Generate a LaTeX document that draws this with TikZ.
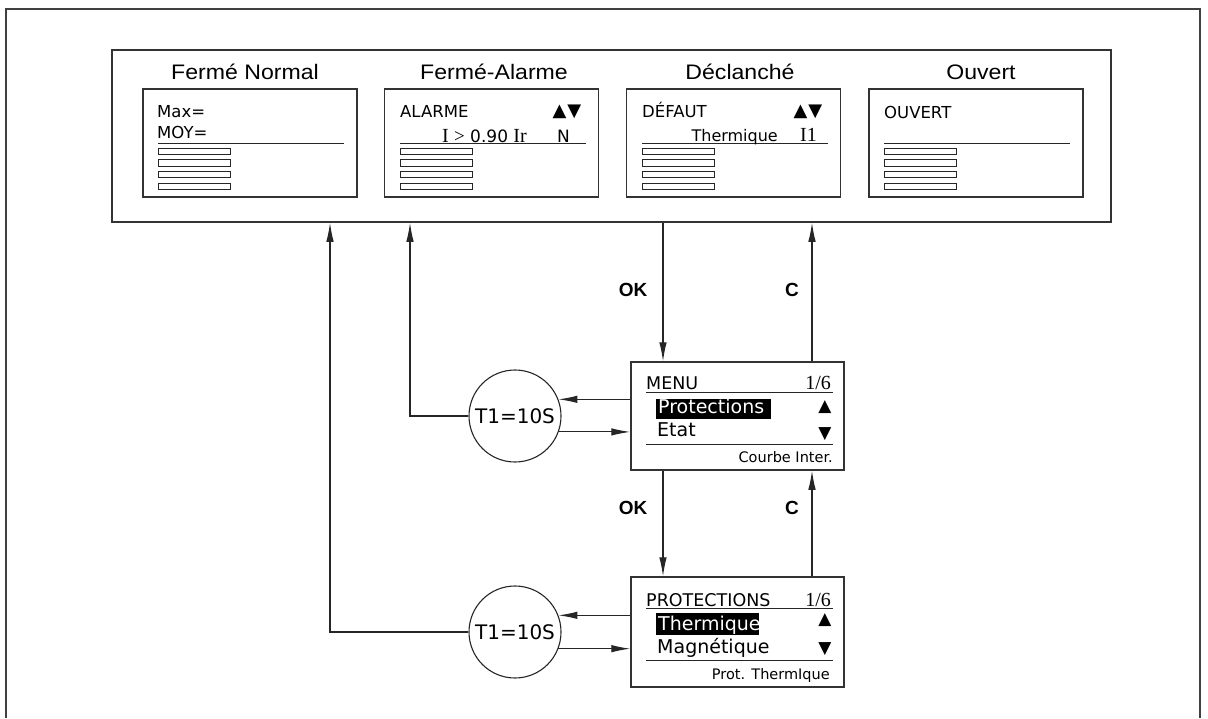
\documentclass[tikz,border=0pt]{standalone}
\usepackage{fontspec}
\setmainfont{DejaVu Sans}
\newfontfamily\ttlfont[FakeStretch=1.1]{Liberation Sans}
\newfontfamily\helv{Liberation Sans}
\newfontfamily\serf{Liberation Serif}
\usetikzlibrary{arrows.meta}
\newcommand\fsz[1]{\fontsize{#1}{#1}\selectfont}
\begin{document}
\begin{tikzpicture}[x=1pt,y=-1pt,
  ln/.style={line width=1.1pt, draw=black!85},
  arr/.style={ln, -{Latex[length=19pt,width=7.5pt]}},
  frm/.style={draw=black!80, line width=1.5pt, inner sep=0pt},
  scr/.style={frm, minimum width=214pt, minimum height=108pt},
  bar/.style={draw=black!85, line width=0.8pt},
  sline/.style={draw=black!85, line width=0.9pt},
  ttl/.style={anchor=base, inner sep=0pt, font=\ttlfont\fsz{21}},
  txt/.style={anchor=base west, inner sep=0pt, font=\fsz{16.5}},
  txte/.style={anchor=base east, inner sep=0pt, font=\fsz{16.5}},
  tri/.style={anchor=center, inner sep=0pt, font=\fsz{17}},
  big/.style={anchor=base west, inner sep=0pt, font=\fsz{19}},
  hdr/.style={anchor=base west, inner sep=0pt, font=\fsz{17.5}},
  frac/.style={anchor=base east, inner sep=0pt, font=\serf\fsz{20}},
  small/.style={anchor=base east, inner sep=0pt, font=\fsz{14.5}},
  lbl/.style={anchor=center, inner sep=0pt, font=\helv\bfseries\fsz{19}},
  circ/.style={draw=black!85, line width=1.1pt, circle, minimum size=92pt, inner sep=0pt, font=\fsz{20}},
  hl/.style={fill=black}
]
\useasboundingbox (0,0) rectangle (1208,718);
% outer frame (open at the bottom)
\draw[draw=black!75, line width=1.8pt] (6,718) -- (6,9) -- (1200,9) -- (1200,718);

% top panel
\node[frm, minimum width=999pt, minimum height=172pt] (panel) at (611.5,136) {};

% titles
\node[ttl] (t1) at (245,79) {Fermé Normal};
\node[ttl] (t2) at (494,79) {Fermé-Alarme};
\node[ttl] (t3) at (740,79) {Déclanché};
\node[ttl] (t4) at (981,79) {Ouvert};

% screens
\node[scr] (s1) at (250,143) {};
\node[scr] (s2) at (491.5,143) {};
\node[scr] (s3) at (733.5,143) {};
\node[scr] (s4) at (976,143) {};

\foreach \L in {143,385,627,869}{
  \draw[sline] (\L+15,143.5) -- (\L+201,143.5);
  \foreach \t in {148,159.7,171.3,183}
    \draw[bar] (\L+15,\t) rectangle (\L+87,\t+6.5);
}

% screen texts
\node[txt] (n1) at (157,117) {Max=};
\node[txt] (n2) at (157,138) {MOY=};

\node[txt] (a1) at (400,117) {ALARME};
\node[tri, font=\fsz{18}] (a2) at (567,112) {▲\kern1pt▼};
\node[txte, font=\fsz{17}] (a3) at (527,142) {{\serf\fsz{20}I} {\serf\fsz{19}>} 0.90 {\serf\fsz{20}Ir}};
\node[txte, font=\fsz{17}] (a4) at (570,142) {N};

\node[txt] (d1) at (642,117) {DÉFAUT};
\node[tri, font=\fsz{18}] (d2) at (808,112) {▲\kern1pt▼};
\node[txte, font=\fsz{16}] (d3) at (778,141) {Thermique};
\node[txte, font=\serf\fsz{20}] (d4) at (817,141) {I1};

\node[txt] (o1) at (884,118) {OUVERT};

% MENU screen
\node[frm, minimum width=213pt, minimum height=108pt] (menu) at (737.5,416) {};
\node[hdr] (mt) at (646,389) {MENU};
\node[frac] (mf) at (831,389) {1/6};
\draw[sline] (646,392) -- (833,392);
\fill[hl] (656,399) rectangle (771,419);
\node[big, text=white] (mp) at (658,413) {Protections};
\node[tri] (mu) at (825,407) {▲};
\node[big] (me) at (657,436) {Etat};
\node[tri] (md) at (825,434) {▼};
\draw[sline] (646,444) -- (833,444);
\node[small] (mc) at (833,462) {Courbe Inter.};

% PROTECTIONS screen
\node[frm, minimum width=213pt, minimum height=110pt] (prot) at (737.5,632) {};
\node[hdr] (pt) at (646,606) {PROTECTIONS};
\node[frac] (pf) at (831,606) {1/6};
\draw[sline] (646,608.5) -- (833,608.5);
\fill[hl] (656,613) rectangle (759,635);
\node[big, text=white] (pth) at (658,630) {Thermique};
\node[tri] (pu) at (825,620) {▲};
\node[big] (pm) at (657,653) {Magnétique};
\node[tri] (pd) at (825,649) {▼};
\draw[sline] (646,660) -- (833,660);
\node[small] (pc) at (830,679) {Prot. ThermIque};

% timers
\node[circ] (c1) at (515,416) {T1=10S};
\node[circ] (c2) at (515,632) {T1=10S};

% coordinates for vertical connectors
\coordinate (xok) at (663,0);
\coordinate (xc) at (812,0);
\coordinate (xa) at (410,0);
\coordinate (xn) at (330,0);

% connectors
\draw[arr] (panel.south -| xok) -- (menu.north -| xok);
\draw[arr] (menu.north -| xc) -- (panel.south -| xc);
\draw[arr] (menu.south -| xok) -- (prot.north -| xok);
\draw[arr] (prot.north -| xc) -- (menu.south -| xc);

\draw[arr] (menu.west |- c1.21.7) -- (c1.21.7);
\draw[arr] (c1.-20.3) -- (menu.west |- c1.-20.3);
\draw[arr] (prot.west |- c2.21.7) -- (c2.21.7);
\draw[arr] (c2.-21.7) -- (prot.west |- c2.-21.7);

\draw[arr] (c1.west) -| (panel.south -| xa);
\draw[arr] (c2.west) -| (panel.south -| xn);

% labels
\node[lbl] (ok1) at (633,290) {OK};
\node[lbl] (cc1) at (792,290) {C};
\node[lbl] (ok2) at (633,508) {OK};
\node[lbl] (cc2) at (792,508) {C};
\end{tikzpicture}
\end{document}
